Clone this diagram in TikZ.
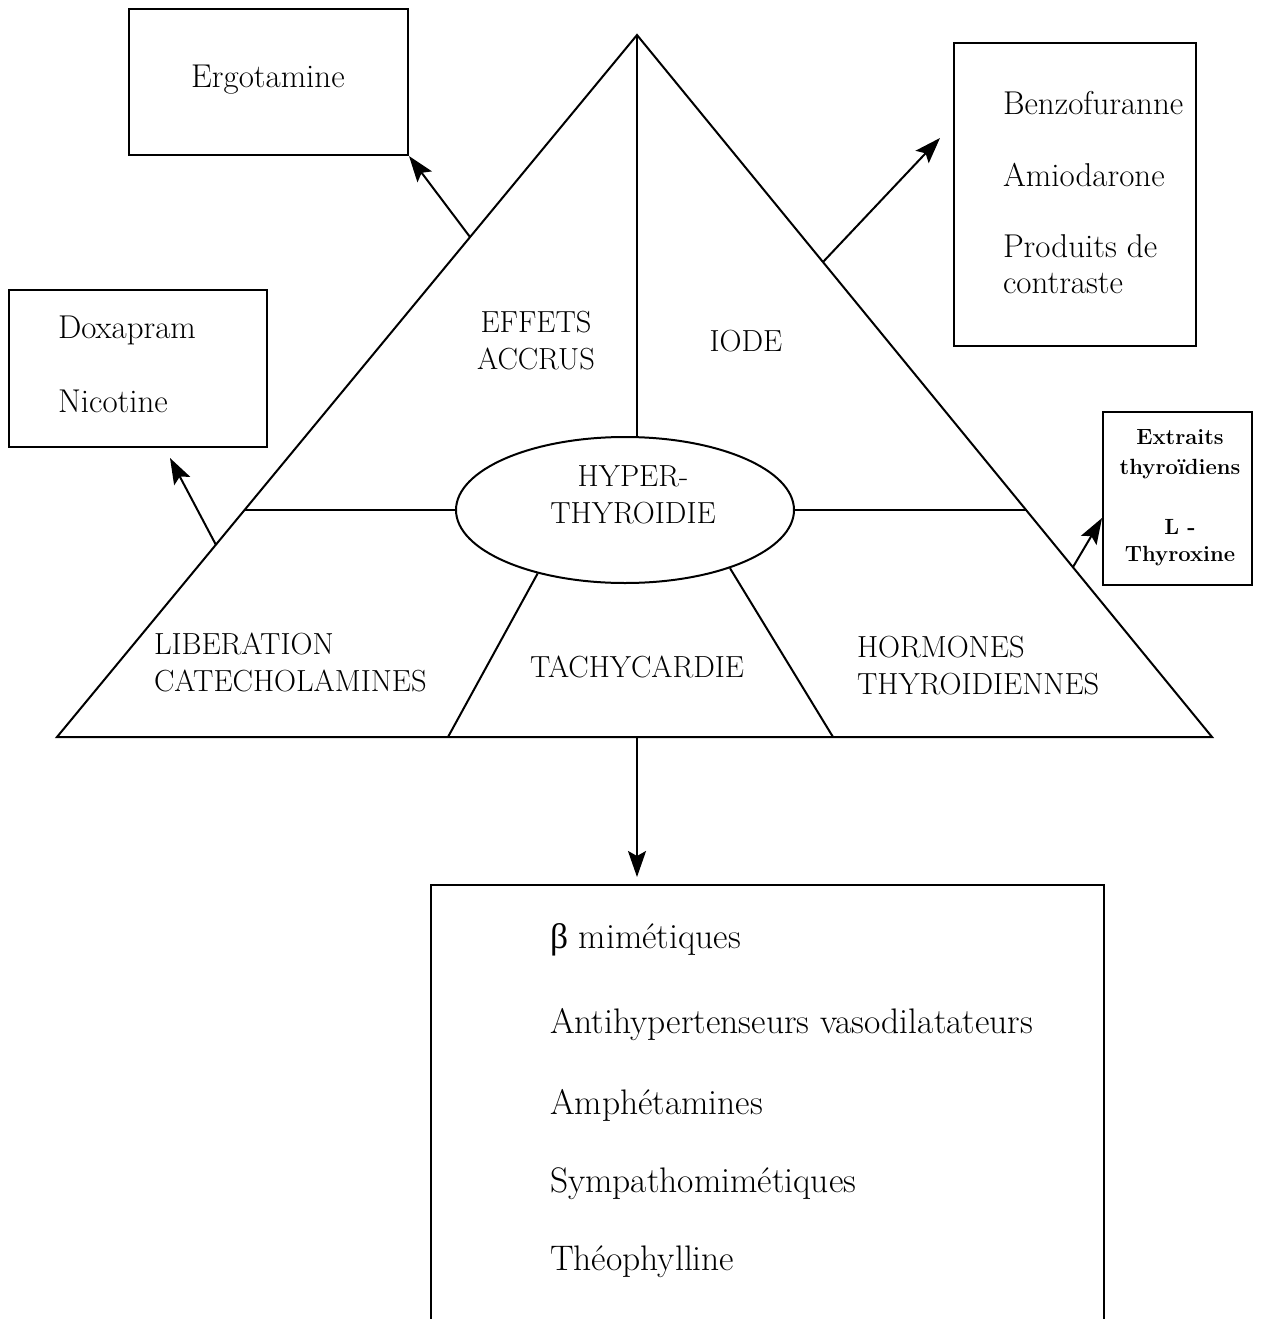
\documentclass[tikz,border=0pt]{standalone}
\usepackage{fontspec}
\newfontfamily\greekfont{Liberation Serif}
\usetikzlibrary{arrows.meta,shapes.geometric}

\newcommand\reffont{\fontsize{33}{39}\selectfont}
\newcommand\listfont{\fontsize{35.5}{42}\selectfont}
\newcommand\capsfont{\fontsize{30.5}{37}\selectfont}
\newcommand\tinyfont{\fontsize{22}{29}\selectfont\bfseries}

\tikzset{
	box/.style={draw,line width=2pt,inner sep=0pt},
	itemlbl/.style={font=\reffont,inner sep=0pt,anchor=west},
	capslbl/.style={font=\capsfont,inner sep=0pt,align=center},
	ptr/.style={-{Stealth[length=26pt,width=18pt,inset=5pt]},line width=2pt}
}

\begin{document}
\begin{tikzpicture}[x=1pt,y=-1pt,line width=2pt]
	\useasboundingbox (0,0) rectangle (1268,1319);
	% triangle
	\coordinate (top) at (637,35);
	\coordinate (bl) at (57,737);
	\coordinate (br) at (1212,737);
	\draw (top)--(bl)--(br)--cycle;
	\node[ellipse,draw,minimum width=338pt,minimum height=146pt,inner sep=0pt] (hyper) at (625,510) {};
	\node[capslbl] (hyperlbl) at (633,495) {HYPER-\\THYROIDIE};
	\coordinate (lmid) at (245,510);
	\coordinate (rmid) at (1026,510);
	\coordinate (lfoot) at (448,737);
	\coordinate (rfoot) at (833,737);
	\draw (top)--(top |- hyper.north);
	\draw (lmid)--(hyper.west);
	\draw (rmid)--(hyper.east);
	\draw (hyper.216)--(lfoot);
	\draw (hyper.331)--(rfoot);
	\node[capslbl] (effets) at (536,341) {EFFETS\\ACCRUS};
	\node[capslbl] (iode) at (746,341) {IODE};
	\node[capslbl,align=left,anchor=west] (liber) at (153,662) {LIBERATION\\CATECHOLAMINES};
	\node[capslbl] (tachy) at (637,667) {TACHYCARDIE};
	\node[capslbl,align=left,anchor=west] (hormo) at (856,666) {HORMONES\\THYROIDIENNES};
	% boxes
	\node[box,minimum width=279pt,minimum height=146pt] (ergo) at (268.5,82) {};
	\node[itemlbl,anchor=center] (ergolbl) at (268,80) {Ergotamine};
	\node[box,minimum width=258pt,minimum height=157pt] (doxa) at (138,368.5) {};
	\node[itemlbl] (doxalbl) at (57,330) {Doxapram};
	\node[itemlbl] (nicolbl) at (57,401) {Nicotine};
	\node[box,minimum width=242pt,minimum height=303pt] (benzo) at (1075,194.5) {};
	\node[itemlbl] (benzolbl) at (1002,103) {Benzofuranne};
	\node[itemlbl] (amiolbl) at (1002,175) {Amiodarone};
	\node[itemlbl] (prodlbl) at (1002,246) {Produits de};
	\node[itemlbl] (contlbl) at (1002,283) {contraste};
	\node[box,minimum width=149pt,minimum height=173pt] (extr) at (1177.5,498.5) {};
	\node[font=\tinyfont,inner sep=0pt] (extrlbl) at (1180,437) {Extraits};
	\node[font=\tinyfont,inner sep=0pt] (thyrlbl) at (1180,469) {thyroïdiens};
	\node[font=\tinyfont,inner sep=0pt] (llbl) at (1180,527) {L -};
	\node[font=\tinyfont,inner sep=0pt] (thyxlbl) at (1180,556) {Thyroxine};
	\draw (431,1330)--(431,885)--(1104,885)--(1104,1330);
	\node[itemlbl,font=\listfont] (betalbl) at (549,940) {{\greekfont β} mimétiques};
	\node[itemlbl,font=\listfont] (antilbl) at (549,1025) {Antihypertenseurs vasodilatateurs};
	\node[itemlbl,font=\listfont] (amphlbl) at (549,1105) {Amphétamines};
	\node[itemlbl,font=\listfont] (sympalbl) at (549,1184) {Sympathomimétiques};
	\node[itemlbl,font=\listfont] (theolbl) at (549,1262) {Théophylline};
	% arrows
	\coordinate (ergofoot) at (470,237);
	\coordinate (doxafoot) at (216,545);
	\coordinate (doxatip) at (170,458);
	\coordinate (benzofoot) at (823,262);
	\coordinate (benzotip) at (940,138);
	\coordinate (extrfoot) at (1073,567);
	\coordinate (extrtip) at (1102,518);
	\coordinate (basemid) at (637,737);
	\coordinate (listtip) at (637,877);
	\draw[ptr] (ergofoot)--(ergo.south east);
	\draw[ptr] (doxafoot)--(doxatip);
	\draw[ptr] (benzofoot)--(benzotip);
	\draw[ptr] (extrfoot)--(extrtip);
	\draw[ptr] (basemid)--(listtip);
\end{tikzpicture}
\end{document}
